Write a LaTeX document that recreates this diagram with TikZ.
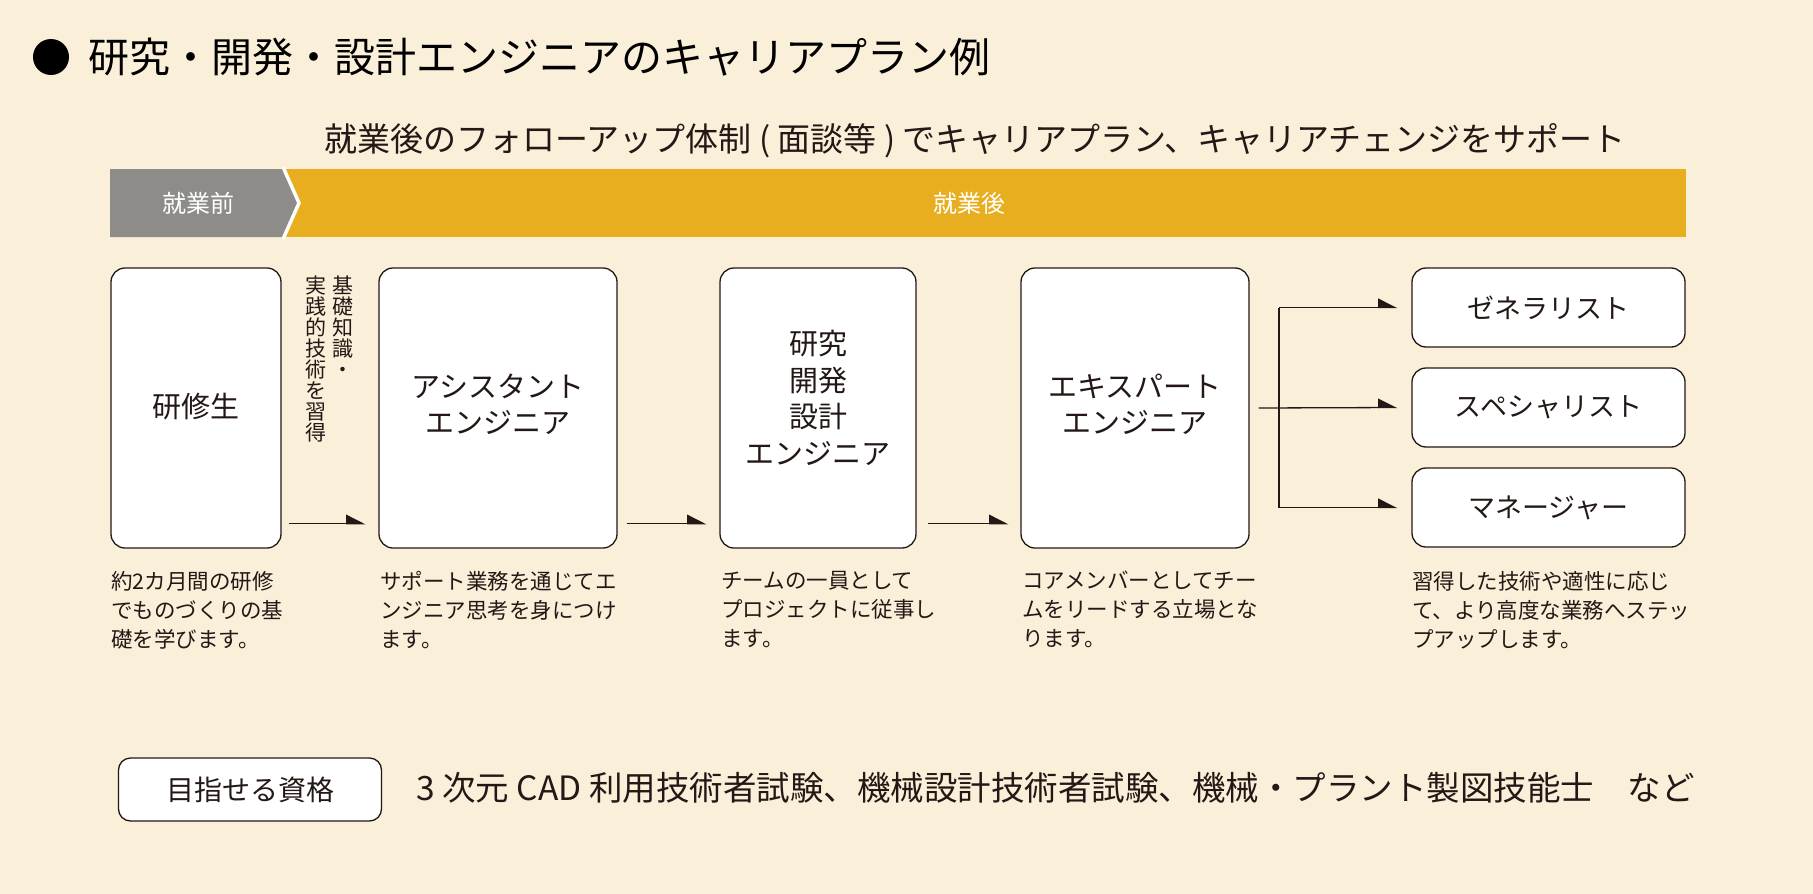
\documentclass[tikz,border=0pt]{standalone}
\usepackage{fontspec}
\setmainfont{Noto Sans CJK JP}
\usetikzlibrary{arrows.meta}
\definecolor{bg}{HTML}{FAEFD9}
\definecolor{gold}{HTML}{E8AE1F}
\definecolor{barg}{HTML}{8E8C89}
\definecolor{ink}{HTML}{231815}
\newcommand{\fs}[2]{\fontsize{#1}{#2}\selectfont}
\begin{document}
\begin{tikzpicture}[x=1pt,y=-1pt,
  box/.style={draw=ink, line width=1.3pt, fill=white, rounded corners=14pt, inner sep=0pt, align=center, text=ink},
  bigbox/.style={box, minimum height=280pt},
  boxlabel/.style={inner sep=0pt, align=center, text=ink, font=\fs{29}{36}},
  rbox/.style={box, minimum width=273pt, minimum height=79pt, font=\fs{27}{32}},
  desc/.style={anchor=north west, inner sep=0pt, align=left, text=ink, font=\fs{21.5}{29}},
  vtext/.style={anchor=north, inner sep=0pt, align=center, text=ink, font=\fs{21}{21}, execute at begin node={\lineskiplimit=-20pt}},
  arr/.style={draw=ink, line width=1.3pt, -{Triangle[harpoon,length=18pt,width=18pt]}},
  line/.style={draw=ink, line width=1.3pt}]
\useasboundingbox (0,0) rectangle (1813,894);
\fill[bg] (0,0) rectangle (1813,894);
% title
\fill[black] (51,57) circle (18pt);
\node[anchor=west, inner sep=0pt, text=black, font=\fs{41}{44}] (title) at (88,57) {研究・開発・設計エンジニアのキャリアプラン例};
\node[inner sep=0pt, text=ink, font=\fs{33}{36}] (sub) at (975,141) {就業後のフォローアップ体制 ( 面談等 ) でキャリアプラン、キャリアチェンジをサポート};
% bar
\fill[gold] (283,169) rectangle (1686,237);
\fill[barg] (110,169) -- (283,169) -- (299,203) -- (283,237) -- (110,237) -- cycle;
\draw[white, line width=3.5pt] (283,167) -- (299,203) -- (283,239);
\node[text=white, font=\fs{24}{26}] (pre) at (198,203) {就業前};
\node[text=white, font=\fs{24}{26}] (post) at (969,203) {就業後};
% main boxes
\node[bigbox, minimum width=170pt] (b1) at (196,408) {};
\node[bigbox, minimum width=238pt] (b2) at (498,408) {};
\node[bigbox, minimum width=196pt] (b3) at (818,408) {};
\node[bigbox, minimum width=228pt] (b4) at (1135,408) {};
\node[boxlabel] (t1) at ([yshift=1pt]b1.center) {研修生};
\node[boxlabel] (t2) at ([yshift=4pt]b2.center) {アシスタント\\エンジニア};
\node[boxlabel, font=\fs{29}{36.5}] (t3) at ([yshift=10pt]b3.center) {研究\\開発\\設計\\エンジニア};
\node[boxlabel] (t4) at ([yshift=4pt]b4.center) {エキスパート\\エンジニア};
\node[rbox] (bz) at (1548.5,307.5) {ゼネラリスト};
\node[rbox] (bs) at (1548.5,407.5) {スペシャリスト};
\node[rbox] (bm) at (1548.5,507.5) {マネージャー};
% vertical text
\node[vtext] (v1) at (343,276) {基\\礎\\知\\識\\・};
\node[vtext] (v2) at (316,276) {実\\践\\的\\技\\術\\を\\習\\得};
% connectors
\draw[arr] ([xshift=7pt,yshift=25pt]b1.south east) -- ([xshift=-13pt,yshift=25pt]b2.south west);
\draw[arr] ([xshift=9pt,yshift=25pt]b2.south east) -- ([xshift=-13pt,yshift=25pt]b3.south west);
\draw[arr] ([xshift=11pt,yshift=25pt]b3.south east) -- ([xshift=-12pt,yshift=25pt]b4.south west);
\coordinate (fx) at (1279,407.5);
\draw[arr] ([xshift=9pt]b4.east) -- ([xshift=-14pt]bs.west);
\draw[line] (fx |- bz.west) -- (fx |- bm.west);
\draw[arr] (fx |- bz.west) -- ([xshift=-14pt]bz.west);
\draw[arr] (fx |- bm.west) -- ([xshift=-14pt]bm.west);
% descriptions
\node[desc] (d1) at (111,571) {約2カ月間の研修\\でものづくりの基\\礎を学びます。};
\node[desc] (d2) at (380,571) {サポート業務を通じてエ\\ンジニア思考を身につけ\\ます。};
\node[desc] (d3) at (721,571) {チームの一員として\\プロジェクトに従事し\\ます。};
\node[desc] (d4) at (1022,571) {コアメンバーとしてチー\\ムをリードする立場とな\\ります。};
\node[desc] (d5) at (1412,571) {習得した技術や適性に応じ\\て、より高度な業務へステッ\\プアップします。};
% bottom
\node[box, rounded corners=12pt, minimum width=263pt, minimum height=63pt, font=\fs{28}{30}] (q) at (250,789.5) {目指せる資格};
\node[anchor=west, inner sep=0pt, text=ink, font=\fs{33.5}{36}] (ql) at (416,788) {3 次元 CAD 利用技術者試験、機械設計技術者試験、機械・プラント製図技能士　など};
\end{tikzpicture}
\end{document}
